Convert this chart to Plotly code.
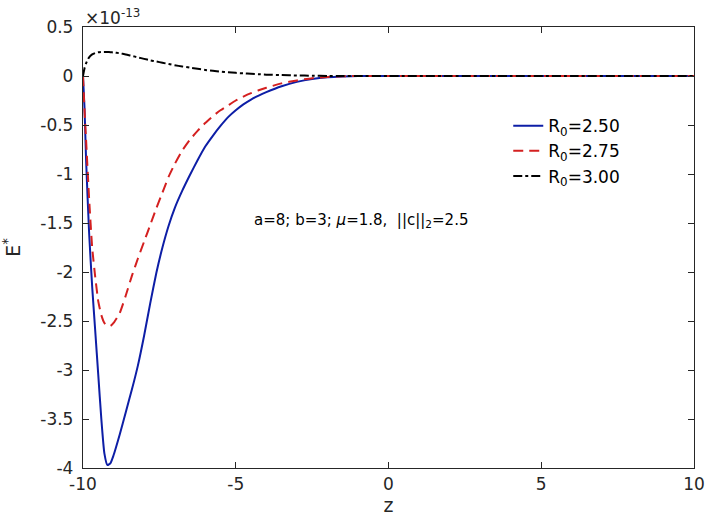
import plotly.graph_objects as go

# values in units of 1e-13 (as on the axis)
z = [-10, -9.95, -9.9, -9.8, -9.7, -9.6, -9.5, -9.4, -9.3, -9.2, -9.1, -9.0,
     -8.8, -8.6, -8.4, -8.2, -8.0, -7.8, -7.6, -7.4, -7.2,
     -7.0, -6.75, -6.5, -6.25, -6.0, -5.75, -5.5, -5.25, -5.0, -4.75, -4.5, -4.25, -4.0,
     -3.5, -3.0, -2.5, -2.0, -1.5, -1.0,
     0, 2, 4, 6, 8, 10]

e_r250 = [0, -0.33, -0.85, -1.6, -2.15, -2.6, -3.05, -3.5, -3.85, -3.97, -3.95, -3.87,
          -3.66, -3.43, -3.2, -2.95, -2.65, -2.32, -2.01, -1.75, -1.53,
          -1.35, -1.17, -1.01, -0.86, -0.72, -0.61, -0.51, -0.42, -0.35, -0.29, -0.24, -0.2, -0.165,
          -0.105, -0.06, -0.03, -0.012, -0.004, 0,
          0, 0, 0, 0, 0, 0]

e_r275 = [0, -0.35, -0.65, -1.25, -1.75, -2.05, -2.3, -2.44, -2.52, -2.55, -2.55, -2.52,
          -2.42, -2.24, -2.04, -1.86, -1.69, -1.52, -1.35, -1.19, -1.03,
          -0.9, -0.76, -0.65, -0.56, -0.48, -0.41, -0.35, -0.3, -0.25, -0.21, -0.175, -0.145, -0.12,
          -0.075, -0.045, -0.022, -0.009, -0.003, 0,
          0, 0, 0, 0, 0, 0]

e_r300 = [0, 0.08, 0.13, 0.19, 0.22, 0.235, 0.242, 0.245, 0.246, 0.245, 0.243, 0.24,
          0.232, 0.22, 0.205, 0.19, 0.175, 0.16, 0.148, 0.135, 0.123,
          0.11, 0.097, 0.085, 0.073, 0.062, 0.053, 0.045, 0.038, 0.032, 0.027, 0.022, 0.018, 0.014,
          0.009, 0.005, 0.003, 0.001, 0, 0,
          0, 0, 0, 0, 0, 0]

series_names = ['R<sub>0</sub>=2.50', 'R<sub>0</sub>=2.75', 'R<sub>0</sub>=3.00']

x_ticks = [-10, -5, 0, 5, 10]
x_labels = ['-10', '-5', '0', '5', '10']
y_ticks = [0.5, 0, -0.5, -1, -1.5, -2, -2.5, -3, -3.5, -4]
y_labels = ['0.5', '0', '-0.5', '-1', '-1.5', '-2', '-2.5', '-3', '-3.5', '-4']

font = 'DejaVu Sans, Liberation Sans, Arial, sans-serif'
axis_col = '#262626'

fig = go.Figure()
fig.add_trace(go.Scatter(x=z, y=e_r250, mode='lines', name=series_names[0],
                         line=dict(color='#0d1ea6', width=2, shape='spline', smoothing=0.5)))
fig.add_trace(go.Scatter(x=z, y=e_r275, mode='lines', name=series_names[1],
                         line=dict(color='#d42020', width=2, dash='10px,6px', shape='spline', smoothing=0.5)))
fig.add_trace(go.Scatter(x=z, y=e_r300, mode='lines', name=series_names[2],
                         line=dict(color='black', width=2, dash='dashdot', shape='spline', smoothing=0.5)))

fig.update_xaxes(range=[-10, 10], tickvals=x_ticks, ticktext=x_labels, automargin=False,
                 ticklabeloverflow='allow',
                 ticks='inside', ticklen=6, tickcolor=axis_col, showline=True,
                 linecolor=axis_col, linewidth=1.3, mirror='ticks', showgrid=False,
                 zeroline=False, tickfont=dict(size=17, color=axis_col),
                 title=dict(text='z', font=dict(size=19, color=axis_col), standoff=4))
fig.update_yaxes(range=[-4, 0.5], tickvals=y_ticks, ticktext=y_labels, automargin=False,
                 ticklabelstandoff=5,
                 ticks='inside', ticklen=6, tickcolor=axis_col, showline=True,
                 linecolor=axis_col, linewidth=1.3, mirror='ticks', showgrid=False,
                 zeroline=False, tickfont=dict(size=17, color=axis_col),
                 title=dict(text='E<sup>*</sup>', font=dict(size=19, color=axis_col), standoff=26))

# exponent label above the y axis
fig.add_annotation(x=0, y=1, xref='paper', yref='paper', xanchor='left', yanchor='bottom',
                   text='\u00d710<sup>-13</sup>', showarrow=False, yshift=-3,
                   font=dict(size=17, color=axis_col, family=font))

fig.add_annotation(x=-0.9, y=-1.47, xref='x', yref='y', xanchor='center', yanchor='middle',
                   text='a=8; b=3; <i>\u03bc</i>=1.8,  ||c||<sub>2</sub>=2.5',
                   showarrow=False, font=dict(size=15, color='black', family=font))

fig.update_layout(
    width=705, height=523,
    margin=dict(l=83, r=11, t=27, b=55),
    plot_bgcolor='white', paper_bgcolor='white',
    font=dict(family=font, color=axis_col),
    showlegend=True,
    legend=dict(x=0.696, y=0.816, xanchor='left', yanchor='top',
                bgcolor='rgba(0,0,0,0)', font=dict(size=17, color='black'),
                tracegroupgap=0),
)

# drop the default page margin so the figure sits at the window's corner
fig.write_html("out.html", config={'displayModeBar': False},
               post_script="document.body.style.margin='0';"
                           "document.documentElement.style.overflow='hidden';")
